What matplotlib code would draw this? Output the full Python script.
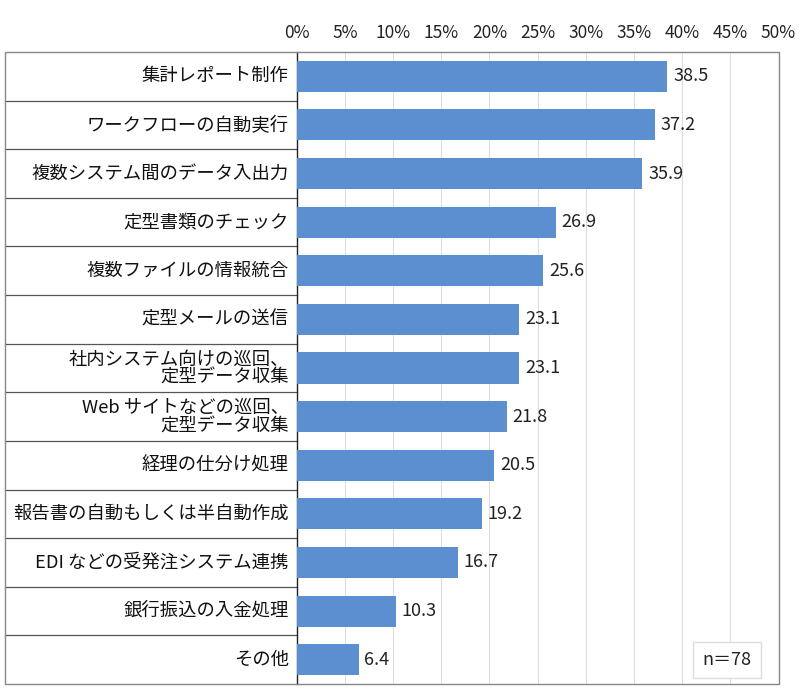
import matplotlib
matplotlib.use("Agg")
import matplotlib.pyplot as plt
from matplotlib.patches import Rectangle
from matplotlib.ticker import MultipleLocator, FuncFormatter

plt.rcParams['font.family'] = ['Noto Sans CJK JP', 'DejaVu Sans']

# data
categories = [
    "集計レポート制作",
    "ワークフローの自動実行",
    "複数システム間のデータ入出力",
    "定型書類のチェック",
    "複数ファイルの情報統合",
    "定型メールの送信",
    "社内システム向けの巡回、\n定型データ収集",
    "Web サイトなどの巡回、\n定型データ収集",
    "経理の仕分け処理",
    "報告書の自動もしくは半自動作成",
    "EDI などの受発注システム連携",
    "銀行振込の入金処理",
    "その他",
]
values = [38.5, 37.2, 35.9, 26.9, 25.6, 23.1, 23.1, 21.8, 20.5, 19.2, 16.7, 10.3, 6.4]
sample_note = "n＝78"

bar_color = "#5B8FCF"

fig = plt.figure(figsize=(8, 6.94), dpi=100)
ax = fig.add_axes([297 / 800, 1 - 684 / 694, 481 / 800, 632 / 694])

n = len(categories)
ypos = list(range(n))
ax.barh(ypos, values, height=0.64, color=bar_color, zorder=3)
ax.set_ylim(n - 0.5, -0.5)
ax.set_xlim(0, 50)

# value labels
for y, v in zip(ypos, values):
    ax.text(v + 0.6, y, f"{v:.1f}", va="center", ha="left", fontsize=13, color="#222222")

# x axis on top
ax.xaxis.tick_top()
ax.xaxis.set_major_locator(MultipleLocator(5))
ax.xaxis.set_major_formatter(FuncFormatter(lambda x, p: f"{int(x)}%"))
ax.tick_params(axis="x", length=0, labelsize=12.5, pad=7.5, colors="#222222")
ax.set_yticks([])
ax.grid(axis="x", color="#DDDDDD", linewidth=0.8, zorder=0)

for side in ["top", "bottom", "right"]:
    ax.spines[side].set_visible(False)
ax.spines["left"].set_color("#222222")
ax.spines["left"].set_linewidth(1.0)

# label cells to the left
left_edge = -292 / 481
trans = ax.get_yaxis_transform()
for i, cat in enumerate(categories):
    ax.text(-0.017, i, cat, transform=trans, ha="right", va="center",
            fontsize=13.2, color="#111111", linespacing=0.95)
    if i < n - 1:
        ax.plot([left_edge, 0], [i + 0.5, i + 0.5], transform=trans,
                color="#555555", linewidth=0.9, clip_on=False)

# outer frame
frame = Rectangle((5 / 800, 1 - 684 / 694), 774 / 800, 632 / 694,
                  transform=fig.transFigure, fill=False,
                  edgecolor="#888888", linewidth=1.0)
fig.patches.append(frame)

# sample size box
ax.text(0.894, 0.038, sample_note, transform=ax.transAxes, ha="center", va="center",
        fontsize=13, color="#222222",
        bbox=dict(boxstyle="square,pad=0.5", facecolor="white", edgecolor="#DDDDDD"),
        zorder=5)

fig.savefig("out.png", dpi=100)
